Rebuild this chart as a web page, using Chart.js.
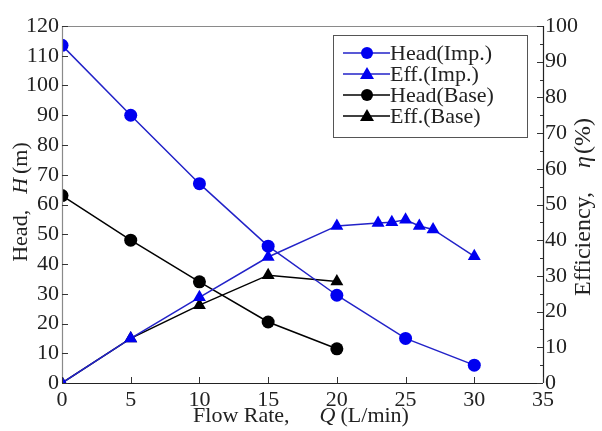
<!DOCTYPE html>
<html><head><meta charset="utf-8">
<script src="https://cdn.jsdelivr.net/npm/chart.js@4/dist/chart.umd.min.js"></script>
<style>html,body{margin:0;padding:0;background:#fff}#wrap{width:602px;height:431px}</style>
</head><body><div id="wrap"><canvas id="c" width="602" height="431"></canvas></div>
<script>
const flowImp = [0, 5, 10, 15, 20, 25, 30];
const headImp = [113.5, 90, 67, 46, 29.5, 15, 6];
const flowEffImp = [0, 5, 10, 15, 20, 23, 24, 25, 26, 27, 30];
const effImp = [0, 12.5, 24, 35.3, 44, 44.8, 45, 45.7, 44, 43, 35.5];
const flowBase = [0, 5, 10, 15, 20];
const headBase = [63, 48, 34, 20.5, 11.5];
const effBase = [0, 12.5, 21.8, 30.2, 28.4];
const seriesLabels = ['Head(Imp.)', 'Eff.(Imp.)', 'Head(Base)', 'Eff.(Base)'];
const xTicks = [0, 5, 10, 15, 20, 25, 30, 35];
const headTicks = [0,10,20,30,40,50,60,70,80,90,100,110,120];
const effTicks = [0,10,20,30,40,50,60,70,80,90,100];

const FONT = "'Liberation Serif', 'Times New Roman', serif";
const BLUE = '#0000f0', BLUEL = '#2222c8', BLK = '#000000';
const pts = (xs, ys) => xs.map((x, i) => ({x: x, y: ys[i]}));

function fixed(w, h) {
  return function (s) {
    if (w !== null) s.width = w;
    if (h !== null) s.height = h;
    s.paddingLeft = 0; s.paddingRight = 0; s.paddingTop = 0; s.paddingBottom = 0;
  };
}

const decor = {
  id: 'decor',
  afterDraw(chart) {
    const ctx = chart.ctx, a = chart.chartArea;
    const xs = chart.scales.x, yl = chart.scales.yH, yr = chart.scales.yE;
    ctx.save();
    // frame
    ctx.lineWidth = 1.2;
    ctx.strokeStyle = '#8a8a8a';
    ctx.beginPath(); ctx.moveTo(a.left, a.top + 0.5); ctx.lineTo(a.right, a.top + 0.5); ctx.stroke();
    ctx.beginPath(); ctx.moveTo(a.left + 0.5, a.top); ctx.lineTo(a.left + 0.5, a.bottom); ctx.stroke();
    ctx.strokeStyle = '#222';
    ctx.beginPath(); ctx.moveTo(a.left, a.bottom + 0.5); ctx.lineTo(a.right, a.bottom + 0.5); ctx.stroke();
    ctx.beginPath(); ctx.moveTo(a.right + 0.5, a.top); ctx.lineTo(a.right + 0.5, a.bottom); ctx.stroke();
    // inward ticks
    ctx.lineWidth = 1;
    ctx.strokeStyle = '#333';
    headTicks.forEach(v => { const y = Math.round(yl.getPixelForValue(v)) + 0.5;
      ctx.beginPath(); ctx.moveTo(a.left, y); ctx.lineTo(a.left + 6, y); ctx.stroke(); });
    xTicks.forEach(v => { const x = Math.round(xs.getPixelForValue(v)) + 0.5;
      ctx.beginPath(); ctx.moveTo(x, a.bottom); ctx.lineTo(x, a.bottom - 6); ctx.stroke(); });
    for (let v = 0; v <= 100; v += 5) {
      const y = Math.round(yr.getPixelForValue(v)) + 0.5, L = (v % 10 === 0) ? 6 : 3;
      ctx.beginPath(); ctx.moveTo(a.right, y); ctx.lineTo(a.right - L, y); ctx.stroke();
    }
    // axis titles with italic symbols: parts = [text, italic, gapAfter]
    function mixed(parts, size, cx, cy, rot) {
      ctx.save();
      ctx.translate(cx, cy); ctx.rotate(rot);
      ctx.fillStyle = '#222'; ctx.textBaseline = 'middle'; ctx.textAlign = 'left';
      const f = p => (p[1] ? 'italic ' : '') + size + 'px ' + FONT;
      let total = 0;
      parts.forEach(p => { ctx.font = f(p); total += ctx.measureText(p[0]).width + p[2]; });
      let x = -total / 2;
      parts.forEach(p => { ctx.font = f(p); ctx.fillText(p[0], x, 0); x += ctx.measureText(p[0]).width + p[2]; });
      ctx.restore();
    }
    mixed([['Head,', false, 16], ['H', true, 4], ['(m)', false, 0]], 22, 21, 202, -Math.PI / 2);
    mixed([['Efficiency,', false, 24], ['\u03B7', true, 2], ['(%)', false, 0]], 24, 584, 207, -Math.PI / 2);
    mixed([['Flow Rate,', false, 30], ['Q', true, 5], ['(L/min)', false, 0]], 22, 301, 416, 0);
    // legend
    const lx = 333, ly = 35, lw = 194, lh = 102;
    ctx.fillStyle = '#fff'; ctx.fillRect(lx, ly, lw, lh);
    ctx.strokeStyle = '#555'; ctx.lineWidth = 1; ctx.strokeRect(lx + 0.5, ly + 0.5, lw, lh);
    const rows = [53, 74, 95, 116];
    chart.data.datasets.forEach((ds, i) => {
      const y = rows[i];
      ctx.strokeStyle = ds.borderColor; ctx.lineWidth = 1.5;
      ctx.beginPath(); ctx.moveTo(343, y); ctx.lineTo(390, y); ctx.stroke();
      ctx.fillStyle = ds.pointBackgroundColor;
      ctx.beginPath();
      if (ds.pointStyle === 'circle') { ctx.arc(367, y, 6, 0, Math.PI * 2); }
      else { ctx.moveTo(367, y - 7); ctx.lineTo(374, y + 5); ctx.lineTo(360, y + 5); ctx.closePath(); }
      ctx.fill();
      ctx.fillStyle = '#222'; ctx.font = '22px ' + FONT; ctx.textAlign = 'left'; ctx.textBaseline = 'middle';
      ctx.fillText(ds.label, 390, y + 1);
    });
    ctx.restore();
  }
};

new Chart(document.getElementById('c'), {
  type: 'scatter',
  data: {
    datasets: [
      {label: seriesLabels[0], data: pts(flowImp, headImp), yAxisID: 'yH', showLine: true,
       borderColor: BLUEL, borderWidth: 1.5, pointStyle: 'circle', pointRadius: 6.5,
       pointBackgroundColor: BLUE, pointBorderColor: BLUE, pointBorderWidth: 0},
      {label: seriesLabels[1], data: pts(flowEffImp, effImp), yAxisID: 'yE', showLine: true,
       borderColor: BLUEL, borderWidth: 1.5, pointStyle: 'triangle', pointRadius: 7.5,
       pointBackgroundColor: BLUE, pointBorderColor: BLUE, pointBorderWidth: 0},
      {label: seriesLabels[2], data: pts(flowBase, headBase), yAxisID: 'yH', showLine: true,
       borderColor: BLK, borderWidth: 1.5, pointStyle: 'circle', pointRadius: 6.5,
       pointBackgroundColor: BLK, pointBorderColor: BLK, pointBorderWidth: 0},
      {label: seriesLabels[3], data: pts(flowBase, effBase), yAxisID: 'yE', showLine: true,
       borderColor: BLK, borderWidth: 1.5, pointStyle: 'triangle', pointRadius: 7.5,
       pointBackgroundColor: BLK, pointBorderColor: BLK, pointBorderWidth: 0}
    ]
  },
  options: {
    responsive: false, animation: false, devicePixelRatio: 1,
    layout: {padding: {top: 26, left: 0, right: 0, bottom: 0}},
    plugins: {legend: {display: false}, tooltip: {enabled: false}},
    scales: {
      x: {type: 'linear', min: 0, max: 35, afterFit: fixed(null, 48),
          afterBuildTicks: s => { s.ticks = xTicks.map(v => ({value: v})); },
          grid: {display: false, drawTicks: false}, border: {display: false},
          ticks: {padding: 4, color: '#222', font: {family: FONT, size: 22}}},
      yH: {type: 'linear', position: 'left', min: 0, max: 120, afterFit: fixed(62, null),
          afterBuildTicks: s => { s.ticks = headTicks.map(v => ({value: v})); },
          grid: {display: false, drawTicks: false}, border: {display: false},
          ticks: {padding: 3, color: '#222', font: {family: FONT, size: 22}}},
      yE: {type: 'linear', position: 'right', min: 0, max: 100, afterFit: fixed(59, null),
          afterBuildTicks: s => { s.ticks = effTicks.map(v => ({value: v})); },
          grid: {display: false, drawTicks: false}, border: {display: false},
          ticks: {padding: 2, color: '#222', font: {family: FONT, size: 22}}}
    }
  },
  plugins: [decor]
});
</script></body></html>
